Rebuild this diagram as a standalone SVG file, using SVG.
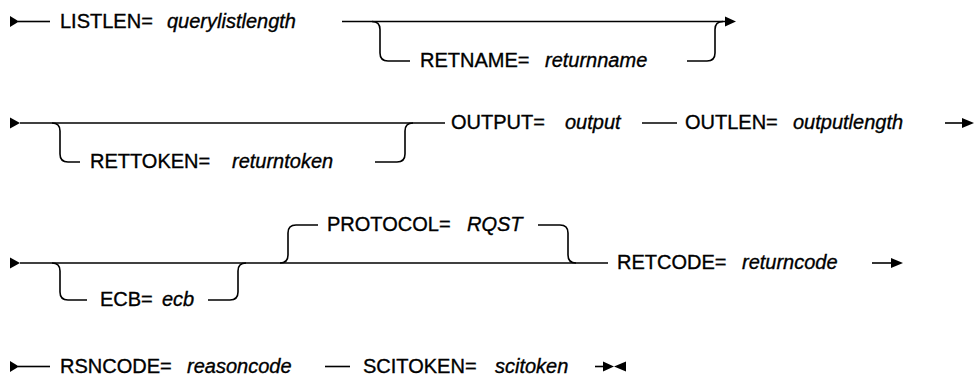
<svg xmlns="http://www.w3.org/2000/svg" width="974" height="377" viewBox="0 0 974 377">
<style>
.kw{font-family:"Liberation Sans",Arial,sans-serif;font-size:20px;fill:#000;stroke:#000;stroke-width:0.35}
.var{font-family:"Liberation Sans",Arial,sans-serif;font-size:20px;font-style:italic;fill:#000;stroke:#000;stroke-width:0.35}
.ln{fill:none;stroke:#000;stroke-width:1.6}
.hd{fill:#000;stroke:none}
</style>
<rect width="974" height="377" fill="#fff"/>
<g id="connectors">
<polygon class="hd" points="10,16 19,21.5 10,27"/>
<path class="ln" d="M18,21.5 H50"/>
<path class="ln" d="M342,21.5 H727"/>
<polygon class="hd" points="725,16.5 736,21.5 725,26.5"/>
<path class="ln" d="M372,21.5 Q380,21.5 380,29.5 V53 Q380,61 388,61 H410"/>
<path class="ln" d="M687,61 H707 Q715,61 715,53 V29.5 Q715,21.5 723,21.5"/>
<polygon class="hd" points="10,117.5 20,123 10,128.5"/>
<path class="ln" d="M20,123 H445"/>
<path class="ln" d="M52,123 Q60,123 60,131 V154 Q60,162 68,162 H80"/>
<path class="ln" d="M375,162 H397 Q405,162 405,154 V131 Q405,123 413,123"/>
<path class="ln" d="M642,123 H677"/>
<path class="ln" d="M945,123 H965"/>
<polygon class="hd" points="962,118 974,123 962,128"/>
<polygon class="hd" points="10,257.5 20,263 10,268.5"/>
<path class="ln" d="M20,263 H608"/>
<path class="ln" d="M52,263 Q60,263 60,271 V292 Q60,300 68,300 H87"/>
<path class="ln" d="M208,300 H230 Q238,300 238,292 V271 Q238,263 246,263"/>
<path class="ln" d="M280,263 Q288,263 288,255 V233 Q288,225 296,225 H318"/>
<path class="ln" d="M538,225 H560 Q568,225 568,233 V255 Q568,263 576,263"/>
<path class="ln" d="M872,263 H894"/>
<polygon class="hd" points="891,258 903,263 891,268"/>
<polygon class="hd" points="10,361 19,366.5 10,372"/>
<path class="ln" d="M18,366.5 H50"/>
<path class="ln" d="M325,366.5 H350"/>
<path class="ln" d="M595,366.5 H606"/>
<polygon class="hd" points="603,361.5 614,366.5 603,371.5"/>
<polygon class="hd" points="626,361.5 614,366.5 626,371.5"/>
</g>
<g id="listlen"><text class="kw" x="60" y="27.5">LISTLEN=</text><text class="var" x="167" y="27.5">querylistlength</text></g>
<g id="retname"><text class="kw" x="420" y="67">RETNAME=</text><text class="var" x="545" y="67">returnname</text></g>
<g id="rettoken"><text class="kw" x="90" y="168">RETTOKEN=</text><text class="var" x="232" y="168">returntoken</text></g>
<g id="output"><text class="kw" x="451" y="129">OUTPUT=</text><text class="var" x="565" y="129">output</text></g>
<g id="outlen"><text class="kw" x="685" y="129">OUTLEN=</text><text class="var" x="793" y="129">outputlength</text></g>
<g id="ecb"><text class="kw" x="100" y="306">ECB=</text><text class="var" x="162" y="306">ecb</text></g>
<g id="protocol"><text class="kw" x="327" y="231">PROTOCOL=</text><text class="var" x="467" y="231">RQST</text></g>
<g id="retcode"><text class="kw" x="617" y="269">RETCODE=</text><text class="var" x="742" y="269">returncode</text></g>
<g id="rsncode"><text class="kw" x="60" y="373">RSNCODE=</text><text class="var" x="187" y="373">reasoncode</text></g>
<g id="scitoken"><text class="kw" x="363" y="373">SCITOKEN=</text><text class="var" x="495" y="373">scitoken</text></g>
</svg>
